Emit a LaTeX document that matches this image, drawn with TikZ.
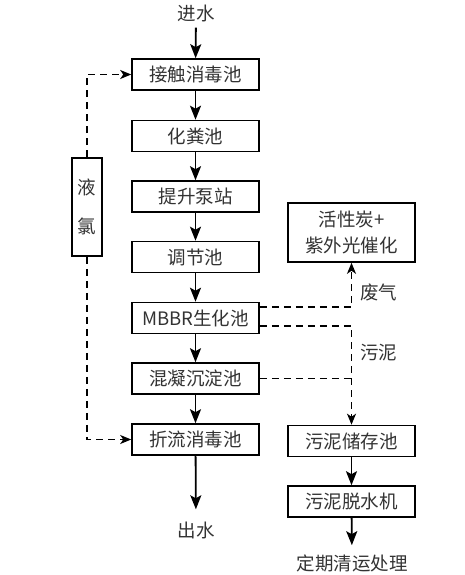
\documentclass[tikz,border=0pt]{standalone}
\usepackage{fontspec}
\newfontfamily\cjk{Noto Sans CJK SC}
\usetikzlibrary{arrows.meta,calc}
\begin{document}
\begin{tikzpicture}[x=1pt,y=-1pt,
  font=\cjk\fontsize{18.5}{22}\selectfont,
  box/.style={draw,line width=1.6pt,minimum width=127pt,minimum height=31pt,inner sep=0pt,text=black!80},
  lbl/.style={inner sep=0pt,text=black!80},
  flow/.style={line width=1.8pt,-{Stealth[length=14pt,width=11pt,inset=3pt]}},
  dflow/.style={line width=1.3pt,dash pattern=on 7pt off 5pt},
  dtip/.style={-{Stealth[length=11pt,width=9pt,inset=3pt]}}]
\useasboundingbox (0,0) rectangle (464,575);
\fill[white] (0,0) rectangle (464,575);
% left column
\node[lbl] (in) at (196,13) {进水};
\node[box] (b1) at (195.5,74.5) {接触消毒池};
\node[box] (b2) at (195.5,136) {化粪池};
\node[box] (b3) at (195.5,196.5) {提升泵站};
\node[box] (b4) at (195.5,257) {调节池};
\node[box] (b5) at (195.5,318) {MBBR生化池};
\node[box] (b6) at (195.5,378.5) {混凝沉淀池};
\node[box] (b7) at (195.5,439.5) {折流消毒池};
\node[lbl] (out) at (196,530) {出水};
% chlorine
\node[draw,line width=1.6pt,minimum width=30pt,minimum height=98pt,inner sep=0pt,align=center,text=black!80,font=\cjk\fontsize{18.5}{39}\selectfont] (lc) at (87,207) {液\\氯};
% right column
\node[box,minimum height=59pt,align=center,font=\cjk\fontsize{18.5}{26}\selectfont] (gas) at (351.5,232.5) {活性炭+\\紫外光催化};
\node[box] (sl) at (351.5,441) {污泥储存池};
\node[box] (dw) at (351.5,501.5) {污泥脱水机};
\node[lbl] (end) at (352,563) {定期清运处理};
\node[lbl,anchor=west] (lg) at (360,292) {废气};
\node[lbl,anchor=west] (ls) at (360,353) {污泥};
% solid flow
\draw[flow,shorten <=6pt] (in) -- (b1);
\draw[flow] (b1) -- (b2);
\draw[flow] (b2) -- (b3);
\draw[flow] (b3) -- (b4);
\draw[flow] (b4) -- (b5);
\draw[flow] (b5) -- (b6);
\draw[flow] (b6) -- (b7);
\draw[flow,shorten >=12pt] (b7) -- (out);
\draw[flow] (sl) -- (dw);
\draw[flow,shorten >=9pt] (dw) -- (end);
% dashed
\coordinate (g0) at ($(b5.east)+(0,-11)$);
\coordinate (s0) at ($(b5.east)+(0,8)$);
\draw[dflow,dtip] (lc.north) |- (b1.west);
\draw[dflow,dtip] (lc.south) |- (b7.west);
\draw[dflow,dtip] (g0) -| (gas.south);
\draw[dflow,dtip] (s0) -| (sl.north);
\draw[dflow] (b6.east) -- (b6.east -| sl.north);
\end{tikzpicture}
\end{document}
